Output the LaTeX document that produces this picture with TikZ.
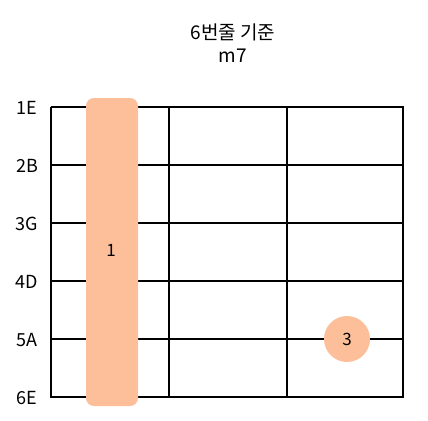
\documentclass[tikz,border=0pt]{standalone}
\usepackage{fontspec}
\setmainfont{Noto Sans CJK KR}
\definecolor{fingercol}{RGB}{252,191,154}
\begin{document}
\begin{tikzpicture}[x=1pt, y=-1pt, font=\fontsize{18}{21}\selectfont]
    \useasboundingbox (0, 0) rectangle (428, 420);
    \node[font=\fontsize{19}{22}\selectfont] (title) at (233, 32) {6번줄 기준};
    \node[font=\fontsize{19}{22}\selectfont] (chord) at (233, 56) {m7};
    \draw[line width=2pt] (51, 107) -- (51, 397) -- (403, 397) -- (403, 107) -- (51, 107);
    \draw[line width=2pt] (51, 165) -- (403, 165);
    \draw[line width=2pt] (51, 223) -- (403, 223);
    \draw[line width=2pt] (51, 281) -- (403, 281);
    \draw[line width=2pt] (51, 339) -- (403, 339);
    \draw[line width=2pt] (169, 107) -- (169, 397);
    \draw[line width=2pt] (287, 107) -- (287, 397);
    \fill[fingercol, rounded corners=8pt] (86, 98) rectangle (138, 406);
    \node[font=\fontsize{17}{20}\selectfont] (barre) at (111, 250) {1};
    \node[circle, fill=fingercol, minimum size=46pt, inner sep=0pt, font=\fontsize{17}{20}\selectfont] (third) at (347, 339) {3};
    \node (s1) at (27, 108) {1E};
    \node (s2) at (27, 166) {2B};
    \node (s3) at (27, 224) {3G};
    \node (s4) at (27, 282) {4D};
    \node (s5) at (27, 340) {5A};
    \node (s6) at (27, 398) {6E};
\end{tikzpicture}
\end{document}
